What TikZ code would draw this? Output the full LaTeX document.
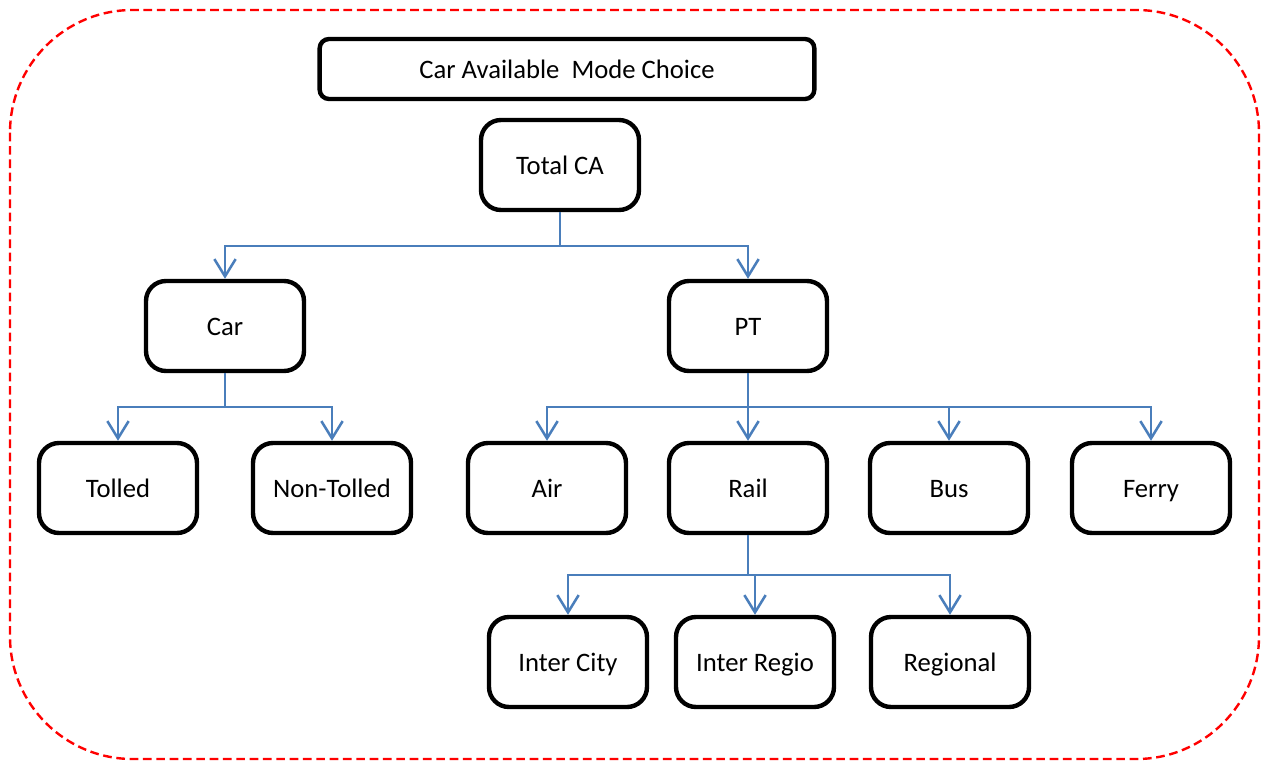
\documentclass[tikz,border=0pt]{standalone}
\usepackage{fontspec}
\setmainfont{Carlito}
\usetikzlibrary{arrows.meta}
\definecolor{mline}{HTML}{4A7EBB}
\definecolor{mframe}{HTML}{FF0000}

\begin{document}
\begin{tikzpicture}[
  x=0.75pt, y=-0.75pt,
  mode/.style={
    draw=black,
    fill=white,
    line width=3.3pt,
    rounded corners=15pt,
    minimum width=118.5pt,
    minimum height=67.5pt,
    inner sep=2pt,
    text height=15pt,
    text depth=1.5pt,
    font=\fontsize{20}{24}\selectfont
  },
  heading/.style={mode, rounded corners=7pt, minimum width=371pt, minimum height=45pt},
  link/.style={draw=mline, line width=1.9pt},
  branch/.style={link, -{Straight Barb[length=13pt, width=16pt]}},
  frame/.style={draw=mframe, line width=1.8pt, dash pattern=on 6.5pt off 3.5pt, rounded corners=92pt}
]
\useasboundingbox (0,0) rectangle (1267,761);

% outer frame
\draw[frame] (10,10) rectangle (1259,759);

\node[heading] (title) at (567,69) {Car Available\ \ Mode Choice};
\node[mode] (total) at (560,165) {Total CA};

% main modes
\node[mode] (car) at (225,326) {Car};
\node[mode] (pt)  at (748,326) {PT};

% sub modes
\node[mode] (tolled)    at (118,488) {Tolled};
\node[mode] (nontolled) at (332,488) {Non-Tolled};
\node[mode] (air)   at (547,488) {Air};
\node[mode] (rail)  at (748,488) {Rail};
\node[mode] (bus)   at (949,488) {Bus};
\node[mode] (ferry) at (1151,488) {Ferry};

% rail types
\node[mode] (intercity)  at (568,662) {Inter City};
\node[mode] (interregio) at (755,662) {Inter Regio};
\node[mode] (regional)   at (950,662) {Regional};

% tree connectors
\coordinate (totalfork) at (560,246);
\coordinate (carfork) at (225,407);
\coordinate (ptfork) at (748,407);
\coordinate (railfork) at (748,575);

\draw[link] (total.south) -- (totalfork);
\foreach \child in {car, pt}
  \draw[branch] (totalfork) -| (\child.north);

\draw[link] (car.south) -- (carfork);
\foreach \child in {tolled, nontolled}
  \draw[branch] (carfork) -| (\child.north);

\draw[link] (pt.south) -- (ptfork);
\foreach \child in {air, rail, bus, ferry}
  \draw[branch] (ptfork) -| (\child.north);

\draw[link] (rail.south) -- (railfork);
\foreach \child in {intercity, interregio, regional}
  \draw[branch] (railfork) -| (\child.north);

\end{tikzpicture}
\end{document}
